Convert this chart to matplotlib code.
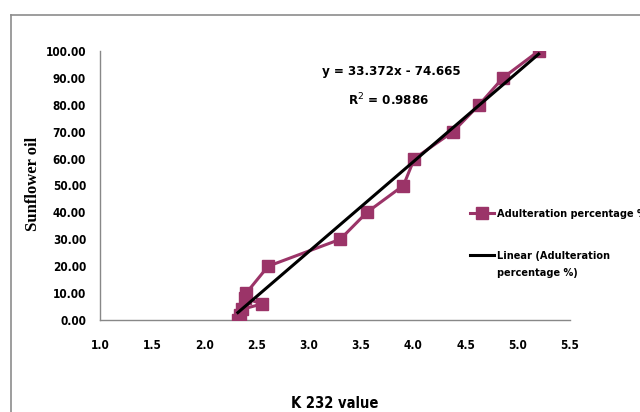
import matplotlib
matplotlib.use('Agg')
import matplotlib.pyplot as plt
from matplotlib.lines import Line2D
from matplotlib.font_manager import FontProperties
import numpy as np

# K232 readings against adulteration level
k232 = [2.32, 2.34, 2.36, 2.555, 2.39, 2.40, 2.61, 3.30, 3.555,
        3.905, 4.01, 4.38, 4.63, 4.857, 5.20]
adulteration = [0, 2, 4, 6, 8, 10, 20, 30, 40, 50, 60, 70, 80, 90, 100]

# trend line from the fitted equation
slope = 33.372
intercept = -74.665
r2 = 0.9886

xticks = [1.0, 1.5, 2.0, 2.5, 3.0, 3.5, 4.0, 4.5, 5.0, 5.5]
yticks = [0, 10, 20, 30, 40, 50, 60, 70, 80, 90, 100]

plum = '#9B3468'


def cfont(size):
    return FontProperties(family='DejaVu Sans', stretch='condensed',
                          weight='bold', size=size)


W, H = 640, 412
fig = plt.figure(figsize=(W/100, H/100), dpi=100)
ax = fig.add_axes([100/W, 1-320/H, 470/W, 269/H])

ax.plot(k232, adulteration, color=plum, lw=2.2, marker='s', ms=8,
        label='Adulteration percentage %', zorder=3)
xfit = np.array([min(k232), max(k232)])
ax.plot(xfit, slope*xfit + intercept, color='black', lw=2.2,
        label='Linear (Adulteration', zorder=4)

ax.set_xlim(1.0, 5.5)
ax.set_ylim(0, 100)
ax.set_xticks(xticks)
ax.set_yticks(yticks)
ax.set_xticklabels(['%.1f' % v for v in xticks], fontproperties=cfont(8.5))
ax.set_yticklabels(['%.2f' % v for v in yticks], fontproperties=cfont(8.5))
ax.tick_params(length=0, pad=10)
ax.tick_params(axis='x', pad=14)
for s in ['top', 'right']:
    ax.spines[s].set_visible(False)
for s in ['left', 'bottom']:
    ax.spines[s].set_color('#888888')
    ax.spines[s].set_linewidth(1)

fig.text(335/W, 1-404/H, 'K 232 value', ha='center', va='center',
         fontproperties=cfont(10.5))
fig.text(33/W, 1-184/H, 'Sunflower oil', ha='center', va='center',
         rotation=90, fontsize=12, fontweight='bold', family='Liberation Serif')

fig.text(391/W, 1-72/H, 'y = 33.372x - 74.665', ha='center', va='center',
         fontproperties=cfont(9.5))
fig.text(389/W, 1-100/H, 'R$^2$ = %.4f' % r2, ha='center', va='center',
         fontproperties=cfont(9.5))

leg = fig.legend(loc='center left', bbox_to_anchor=(470/W, 1-235/H),
                 frameon=False, prop=cfont(7.8),
                 handlelength=2.2, handletextpad=0.3, labelspacing=3.0,
                 borderaxespad=0, borderpad=0)

# second line of the trend line's legend label, under the first
fig.canvas.draw()
bb = leg.get_texts()[1].get_window_extent()
fig.text(bb.x0/W, (bb.y0 - 17)/H, 'percentage %)', ha='left', va='bottom',
         fontproperties=cfont(7.8))

# chart area frame
gray = '#8c8c8c'
fig.add_artist(Line2D([11/W, 1], [1-15/H, 1-15/H], color=gray, lw=1.2))
fig.add_artist(Line2D([11/W, 11/W], [0, 1-15/H], color=gray, lw=1.2))

fig.savefig('out.png', dpi=100)
